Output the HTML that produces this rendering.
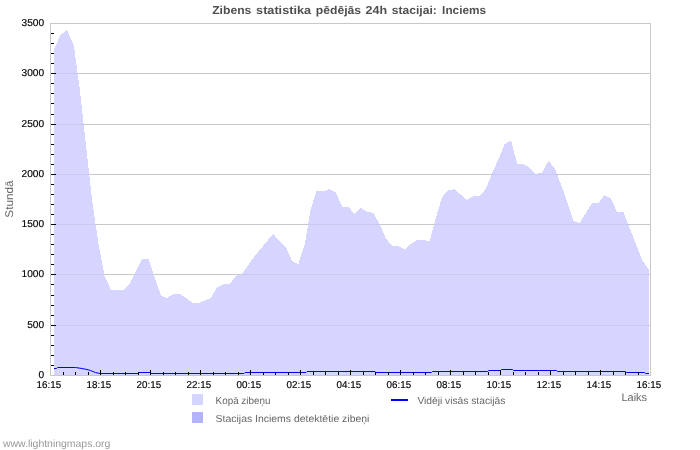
<!DOCTYPE html>
<html><head><meta charset="utf-8"><title>Zibens statistika</title>
<style>
html,body{margin:0;padding:0;background:#fff;}
body{width:700px;height:450px;overflow:hidden;font-family:"Liberation Sans",sans-serif;}
svg{display:block;}
text{font-family:"Liberation Sans",sans-serif;text-rendering:geometricPrecision;}
.txt{opacity:0.999;will-change:opacity;}
.ax{font-size:10px;text-rendering:geometricPrecision;fill:#000;stroke:#000;stroke-width:0.18px;}
.lg{font-size:10.2px;fill:#666;}
</style></head><body>
<svg width="700" height="450" viewBox="0 0 700 450">
<rect width="700" height="450" fill="#fff"/>
<g shape-rendering="crispEdges">
<rect x="51" y="73" width="599" height="1" fill="#c8c8c8"/><rect x="51" y="124" width="599" height="1" fill="#c8c8c8"/><rect x="51" y="174" width="599" height="1" fill="#c8c8c8"/><rect x="51" y="224" width="599" height="1" fill="#c8c8c8"/><rect x="51" y="274" width="599" height="1" fill="#c8c8c8"/><rect x="51" y="325" width="599" height="1" fill="#c8c8c8"/>
<polygon points="54,375 54,48 54.6,48 60.45,35 67.1,30 73.85,45.5 79.6,88 85.85,144 92.1,200 98.35,243 104.6,276 110.85,289.5 117.1,290 123.35,290 129.6,284 135.85,271 142.1,258.6 148.35,259 154.6,277 160.85,295.4 167.1,298 173.35,294 179.6,293.6 185.85,298 192.1,302.6 198.35,303 204.6,300.5 210.85,298 217.1,287.4 223.35,284.3 229.6,284 235.85,276 242.1,273.6 248.35,265 254.6,256 260.85,248.5 267.1,241 273.35,234 279.6,241.5 285.85,247 292.1,261 298.35,264 304.6,245 310.45,210 316.4,191.4 323.35,191.4 329.6,189 335.85,192.6 342.1,206.6 348.35,207 354.6,214 360.85,208 367.1,211.6 373.35,213.2 379.6,224 385.85,238.5 392.1,246 398.35,246 404.6,249.4 410.85,244 417.1,240 423.35,240 429.6,241 435.85,218 442.1,197 448.35,190 454.6,189.4 460.85,194.7 467.1,200 473.35,196 479.6,196 485.85,189 492.1,173 498.35,159.5 504.6,144 511.15,140.6 517.1,163.6 523.35,164 529.6,167.6 535.85,174 542.1,172.6 548.35,161 554.6,168 560.85,184 567.1,201.5 573.35,221 579.6,223 585.85,213 592.1,203 598.35,203 604.6,195 610.85,198.5 617.1,212 623.35,212 629.6,228 635.85,244 642.1,260 648.35,269 649,269 649,375" fill="#d5d5ff"/>
<clipPath id="cp"><polygon points="54,375 54,48 54.6,48 60.45,35 67.1,30 73.85,45.5 79.6,88 85.85,144 92.1,200 98.35,243 104.6,276 110.85,289.5 117.1,290 123.35,290 129.6,284 135.85,271 142.1,258.6 148.35,259 154.6,277 160.85,295.4 167.1,298 173.35,294 179.6,293.6 185.85,298 192.1,302.6 198.35,303 204.6,300.5 210.85,298 217.1,287.4 223.35,284.3 229.6,284 235.85,276 242.1,273.6 248.35,265 254.6,256 260.85,248.5 267.1,241 273.35,234 279.6,241.5 285.85,247 292.1,261 298.35,264 304.6,245 310.45,210 316.4,191.4 323.35,191.4 329.6,189 335.85,192.6 342.1,206.6 348.35,207 354.6,214 360.85,208 367.1,211.6 373.35,213.2 379.6,224 385.85,238.5 392.1,246 398.35,246 404.6,249.4 410.85,244 417.1,240 423.35,240 429.6,241 435.85,218 442.1,197 448.35,190 454.6,189.4 460.85,194.7 467.1,200 473.35,196 479.6,196 485.85,189 492.1,173 498.35,159.5 504.6,144 511.15,140.6 517.1,163.6 523.35,164 529.6,167.6 535.85,174 542.1,172.6 548.35,161 554.6,168 560.85,184 567.1,201.5 573.35,221 579.6,223 585.85,213 592.1,203 598.35,203 604.6,195 610.85,198.5 617.1,212 623.35,212 629.6,228 635.85,244 642.1,260 648.35,269 649,269 649,375"/></clipPath><g clip-path="url(#cp)"><rect x="51" y="73" width="599" height="1" fill="#c8c8f0"/><rect x="51" y="124" width="599" height="1" fill="#c8c8f0"/><rect x="51" y="174" width="599" height="1" fill="#c8c8f0"/><rect x="51" y="224" width="599" height="1" fill="#c8c8f0"/><rect x="51" y="274" width="599" height="1" fill="#c8c8f0"/><rect x="51" y="325" width="599" height="1" fill="#c8c8f0"/></g>
<rect x="50" y="23" width="601" height="1" fill="#c8c8c8"/>
<rect x="50" y="375" width="601" height="1" fill="#c8c8c8"/>
<rect x="50" y="23" width="1" height="353" fill="#c8c8c8"/>
<rect x="650" y="23" width="1" height="353" fill="#c8c8c8"/>
</g>
<polyline points="54,368.5 56.5,368.5 57.5,367.5 75.5,367.5 82,368.5 87,369.5 90.5,370.5 93,371.5 95.5,372.5 100,373.5 138,373.5 139,372.5 150,372.5 151,373.5 244,373.5 245,372.5 306,372.5 307,371.5 375,371.5 376,372.5 431.5,372.5 432.5,371.5 487.5,371.5 488.5,370.5 500.5,370.5 501.5,369.5 512.5,369.5 513.5,370.5 556.5,370.5 557.5,371.5 625.5,371.5 626.5,372.5 644.5,372.5 645.5,373.5 649,373.5" fill="none" stroke="#0000ff" stroke-width="1"/>
<g shape-rendering="crispEdges">
<rect x="51" y="365" width="3" height="1" fill="#000"/><rect x="51" y="355" width="3" height="1" fill="#000"/><rect x="51" y="345" width="3" height="1" fill="#000"/><rect x="51" y="335" width="3" height="1" fill="#000"/><rect x="51" y="325" width="5" height="1" fill="#000"/><rect x="51" y="315" width="3" height="1" fill="#000"/><rect x="51" y="305" width="3" height="1" fill="#000"/><rect x="51" y="295" width="3" height="1" fill="#000"/><rect x="51" y="284" width="3" height="1" fill="#000"/><rect x="51" y="274" width="5" height="1" fill="#000"/><rect x="51" y="264" width="3" height="1" fill="#000"/><rect x="51" y="254" width="3" height="1" fill="#000"/><rect x="51" y="244" width="3" height="1" fill="#000"/><rect x="51" y="234" width="3" height="1" fill="#000"/><rect x="51" y="224" width="5" height="1" fill="#000"/><rect x="51" y="214" width="3" height="1" fill="#000"/><rect x="51" y="204" width="3" height="1" fill="#000"/><rect x="51" y="194" width="3" height="1" fill="#000"/><rect x="51" y="184" width="3" height="1" fill="#000"/><rect x="51" y="174" width="5" height="1" fill="#000"/><rect x="51" y="164" width="3" height="1" fill="#000"/><rect x="51" y="154" width="3" height="1" fill="#000"/><rect x="51" y="144" width="3" height="1" fill="#000"/><rect x="51" y="134" width="3" height="1" fill="#000"/><rect x="51" y="124" width="5" height="1" fill="#000"/><rect x="51" y="114" width="3" height="1" fill="#000"/><rect x="51" y="103" width="3" height="1" fill="#000"/><rect x="51" y="93" width="3" height="1" fill="#000"/><rect x="51" y="83" width="3" height="1" fill="#000"/><rect x="51" y="73" width="5" height="1" fill="#000"/><rect x="51" y="63" width="3" height="1" fill="#000"/><rect x="51" y="53" width="3" height="1" fill="#000"/><rect x="51" y="43" width="3" height="1" fill="#000"/><rect x="51" y="33" width="3" height="1" fill="#000"/>
<rect x="63" y="372" width="1" height="3" fill="#000"/><rect x="75" y="372" width="1" height="3" fill="#000"/><rect x="88" y="372" width="1" height="3" fill="#000"/><rect x="100" y="370" width="1" height="5" fill="#000"/><rect x="113" y="372" width="1" height="3" fill="#000"/><rect x="125" y="372" width="1" height="3" fill="#000"/><rect x="138" y="372" width="1" height="3" fill="#000"/><rect x="150" y="370" width="1" height="5" fill="#000"/><rect x="163" y="372" width="1" height="3" fill="#000"/><rect x="175" y="372" width="1" height="3" fill="#000"/><rect x="188" y="372" width="1" height="3" fill="#000"/><rect x="200" y="370" width="1" height="5" fill="#000"/><rect x="213" y="372" width="1" height="3" fill="#000"/><rect x="225" y="372" width="1" height="3" fill="#000"/><rect x="238" y="372" width="1" height="3" fill="#000"/><rect x="250" y="370" width="1" height="5" fill="#000"/><rect x="263" y="372" width="1" height="3" fill="#000"/><rect x="275" y="372" width="1" height="3" fill="#000"/><rect x="288" y="372" width="1" height="3" fill="#000"/><rect x="300" y="370" width="1" height="5" fill="#000"/><rect x="313" y="372" width="1" height="3" fill="#000"/><rect x="325" y="372" width="1" height="3" fill="#000"/><rect x="338" y="372" width="1" height="3" fill="#000"/><rect x="350" y="370" width="1" height="5" fill="#000"/><rect x="363" y="372" width="1" height="3" fill="#000"/><rect x="375" y="372" width="1" height="3" fill="#000"/><rect x="388" y="372" width="1" height="3" fill="#000"/><rect x="400" y="370" width="1" height="5" fill="#000"/><rect x="413" y="372" width="1" height="3" fill="#000"/><rect x="425" y="372" width="1" height="3" fill="#000"/><rect x="438" y="372" width="1" height="3" fill="#000"/><rect x="450" y="370" width="1" height="5" fill="#000"/><rect x="463" y="372" width="1" height="3" fill="#000"/><rect x="475" y="372" width="1" height="3" fill="#000"/><rect x="488" y="372" width="1" height="3" fill="#000"/><rect x="500" y="370" width="1" height="5" fill="#000"/><rect x="513" y="372" width="1" height="3" fill="#000"/><rect x="525" y="372" width="1" height="3" fill="#000"/><rect x="538" y="372" width="1" height="3" fill="#000"/><rect x="550" y="370" width="1" height="5" fill="#000"/><rect x="563" y="372" width="1" height="3" fill="#000"/><rect x="575" y="372" width="1" height="3" fill="#000"/><rect x="588" y="372" width="1" height="3" fill="#000"/><rect x="600" y="370" width="1" height="5" fill="#000"/><rect x="613" y="372" width="1" height="3" fill="#000"/><rect x="625" y="372" width="1" height="3" fill="#000"/><rect x="638" y="372" width="1" height="3" fill="#000"/>
</g>
<g class="txt"><g font-size="11.5" font-weight="bold" fill="#505050"><text x="212.2" y="14" textLength="39.2" lengthAdjust="spacingAndGlyphs">Zibens</text><text x="256.1" y="14" textLength="54.9" lengthAdjust="spacingAndGlyphs">statistika</text><text x="315.8" y="14" textLength="45.3" lengthAdjust="spacingAndGlyphs">pēdējās</text><text x="365.5" y="14" textLength="21.6" lengthAdjust="spacingAndGlyphs">24h</text><text x="391.8" y="14" textLength="45" lengthAdjust="spacingAndGlyphs">stacijai:</text><text x="442.1" y="14" textLength="44" lengthAdjust="spacingAndGlyphs">Inciems</text></g>
<text x="38.45" y="378" class="ax" textLength="5.65" lengthAdjust="spacingAndGlyphs">0</text><text x="27.15" y="328" class="ax" textLength="16.95" lengthAdjust="spacingAndGlyphs">500</text><text x="21.5" y="277" class="ax" textLength="22.6" lengthAdjust="spacingAndGlyphs">1000</text><text x="21.5" y="227" class="ax" textLength="22.6" lengthAdjust="spacingAndGlyphs">1500</text><text x="21.5" y="177" class="ax" textLength="22.6" lengthAdjust="spacingAndGlyphs">2000</text><text x="21.5" y="127" class="ax" textLength="22.6" lengthAdjust="spacingAndGlyphs">2500</text><text x="21.5" y="76" class="ax" textLength="22.6" lengthAdjust="spacingAndGlyphs">3000</text><text x="21.5" y="26" class="ax" textLength="22.6" lengthAdjust="spacingAndGlyphs">3500</text>
<text x="36.5" y="388" class="ax" textLength="24.6" lengthAdjust="spacingAndGlyphs">16:15</text><text x="86.5" y="388" class="ax" textLength="24.6" lengthAdjust="spacingAndGlyphs">18:15</text><text x="136.5" y="388" class="ax" textLength="24.6" lengthAdjust="spacingAndGlyphs">20:15</text><text x="186.5" y="388" class="ax" textLength="24.6" lengthAdjust="spacingAndGlyphs">22:15</text><text x="236.5" y="388" class="ax" textLength="24.6" lengthAdjust="spacingAndGlyphs">00:15</text><text x="286.5" y="388" class="ax" textLength="24.6" lengthAdjust="spacingAndGlyphs">02:15</text><text x="336.5" y="388" class="ax" textLength="24.6" lengthAdjust="spacingAndGlyphs">04:15</text><text x="386.5" y="388" class="ax" textLength="24.6" lengthAdjust="spacingAndGlyphs">06:15</text><text x="436.5" y="388" class="ax" textLength="24.6" lengthAdjust="spacingAndGlyphs">08:15</text><text x="486.5" y="388" class="ax" textLength="24.6" lengthAdjust="spacingAndGlyphs">10:15</text><text x="536.5" y="388" class="ax" textLength="24.6" lengthAdjust="spacingAndGlyphs">12:15</text><text x="586.5" y="388" class="ax" textLength="24.6" lengthAdjust="spacingAndGlyphs">14:15</text><text x="636.5" y="388" class="ax" textLength="24.6" lengthAdjust="spacingAndGlyphs">16:15</text>
<text transform="translate(13,199) rotate(-90)" text-anchor="middle" font-size="11.2" fill="#666" textLength="37.3" lengthAdjust="spacingAndGlyphs">Stundā</text>
<text x="621.4" y="400.7" font-size="11" fill="#666" textLength="25.7" lengthAdjust="spacingAndGlyphs">Laiks</text>
<rect x="192" y="394" width="11" height="11" fill="#d5d5ff" shape-rendering="crispEdges"/>
<rect x="192" y="412" width="11" height="11" fill="#b3b3ff" shape-rendering="crispEdges"/>
<text x="215.6" y="404" class="lg" textLength="54.8" lengthAdjust="spacingAndGlyphs">Kopā zibeņu</text>
<text x="215.6" y="422" class="lg" textLength="153.8" lengthAdjust="spacingAndGlyphs">Stacijas Inciems detektētie zibeņi</text>
<rect x="391" y="399" width="17" height="2" fill="#0000ff" shape-rendering="crispEdges"/>
<text x="417.4" y="404" class="lg" textLength="88" lengthAdjust="spacingAndGlyphs">Vidēji visās stacijās</text>
<text x="3" y="446.6" font-size="10.4" fill="#999" textLength="107.4" lengthAdjust="spacingAndGlyphs">www.lightningmaps.org</text></g>
</svg>
</body></html>
